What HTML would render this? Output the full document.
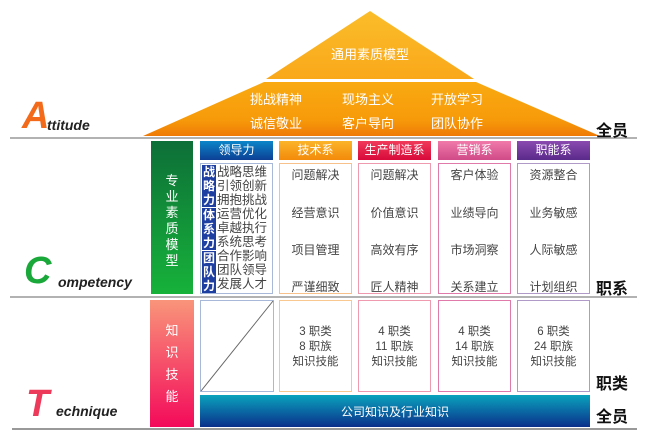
<!DOCTYPE html>
<html><head><meta charset="utf-8"><style>
*{margin:0;padding:0;box-sizing:border-box}
body{width:654px;height:434px;background:#fff;position:relative;overflow:hidden;font-family:"Liberation Sans","Noto Sans CJK SC",sans-serif}
.a{position:absolute}
.hdr{position:absolute;top:141px;height:19px;color:#fff;font-size:12px;text-align:center;line-height:19px}
.box{position:absolute;top:163px;height:131px;border:1px solid;background:#fff}
.box div{position:absolute;left:0;right:0;text-align:center;font-size:12px;color:#444}
.bb{position:absolute;top:300px;height:92px;border:1px solid;background:#fff;text-align:center;font-size:11.5px;color:#444;line-height:15px;padding-top:24px}
.rl{position:absolute;left:596px;font-size:16px;font-weight:bold;color:#111}
.row{position:absolute;left:217px;font-size:12.5px;color:#444;line-height:14px}
.lc{position:absolute;left:202px;width:14px;background:#1f3fa0;color:#fff;font-size:12px;font-weight:bold;line-height:14px;text-align:center}
</style></head><body>
<svg class="a" style="left:0;top:0" width="654" height="434">
<defs>
<linearGradient id="t1" x1="0" y1="0" x2="0" y2="1"><stop offset="0" stop-color="#fbbd2a"/><stop offset="1" stop-color="#f9a81a"/></linearGradient>
<linearGradient id="t2" x1="0" y1="0" x2="0" y2="1"><stop offset="0" stop-color="#f9aa12"/><stop offset="0.7" stop-color="#f79a0a"/><stop offset="1" stop-color="#ef7a06"/></linearGradient>
<linearGradient id="gb" x1="0" y1="0" x2="0" y2="1"><stop offset="0" stop-color="#0d6f38"/><stop offset="1" stop-color="#17b23a"/></linearGradient>
<linearGradient id="pb" x1="0" y1="0" x2="0" y2="1"><stop offset="0" stop-color="#f9957a"/><stop offset="1" stop-color="#f30a5a"/></linearGradient>
<linearGradient id="bl" x1="0" y1="0" x2="0" y2="1"><stop offset="0" stop-color="#0aa3bd"/><stop offset="1" stop-color="#0a2f8a"/></linearGradient>
</defs>
<polygon points="370,11 474,79 266,79" fill="url(#t1)"/>
<polygon points="264,82 476,82 600,136 143,136" fill="url(#t2)"/>
<line x1="10" y1="138" x2="637" y2="138" stroke="#999" stroke-width="1.5"/>
<line x1="10" y1="297" x2="637" y2="297" stroke="#999" stroke-width="1.5"/>
<line x1="12" y1="429" x2="637" y2="429" stroke="#999" stroke-width="2"/>
<rect x="151" y="141" width="42" height="153" fill="url(#gb)"/>
<rect x="150" y="300" width="44" height="127" fill="url(#pb)"/>
<rect x="200" y="395" width="390" height="32" fill="url(#bl)"/>
<rect x="200.5" y="300.5" width="73" height="91" fill="#fff" stroke="#a8b8d8"/>
<line x1="201" y1="391" x2="273" y2="301" stroke="#666"/>
</svg>
<div class="a" style="left:300px;top:44px;width:140px;text-align:center;color:#fff;font-size:13px">通用素质模型</div>
<div class="a" style="left:250px;top:89px;color:#fff;font-size:13px">挑战精神</div>
<div class="a" style="left:342px;top:89px;color:#fff;font-size:13px">现场主义</div>
<div class="a" style="left:431px;top:89px;color:#fff;font-size:13px">开放学习</div>
<div class="a" style="left:250px;top:113px;color:#fff;font-size:13px">诚信敬业</div>
<div class="a" style="left:342px;top:113px;color:#fff;font-size:13px">客户导向</div>
<div class="a" style="left:431px;top:113px;color:#fff;font-size:13px">团队协作</div>

<div class="a" style="left:22px;top:97px;font-size:38px;font-weight:bold;font-style:italic;color:#f26a1a;line-height:38px">A</div>
<div class="a" style="left:47px;top:117px;font-size:14px;font-style:italic;font-weight:bold;color:#222">ttitude</div>
<div class="a" style="left:24px;top:252px;font-size:38px;font-weight:bold;font-style:italic;color:#1aa83a;line-height:38px">C</div>
<div class="a" style="left:58px;top:274px;font-size:14px;font-style:italic;font-weight:bold;color:#222">ompetency</div>
<div class="a" style="left:26px;top:385px;font-size:38px;font-weight:bold;font-style:italic;color:#ee3a5a;line-height:38px">T</div>
<div class="a" style="left:56px;top:403px;font-size:14px;font-style:italic;font-weight:bold;color:#222">echnique</div>

<div class="a" style="left:151px;top:173px;width:42px;text-align:center;color:#fff;font-size:13px;line-height:16px">专<br>业<br>素<br>质<br>模<br>型</div>
<div class="a" style="left:150px;top:320px;width:44px;text-align:center;color:#fff;font-size:13px;line-height:22px">知<br>识<br>技<br>能</div>

<div class="hdr" style="left:200px;width:73px;background:linear-gradient(#0b86c8,#0c3f95)">领导力</div>
<div class="hdr" style="left:279px;width:73px;background:linear-gradient(#fbb42a,#f38a0a)">技术系</div>
<div class="hdr" style="left:358px;width:73px;background:linear-gradient(#f03a5a,#d80a3a)">生产制造系</div>
<div class="hdr" style="left:438px;width:73px;background:linear-gradient(#f07aaa,#d04a88)">营销系</div>
<div class="hdr" style="left:517px;width:73px;background:linear-gradient(#8a4ab0,#5a2a8a)">职能系</div>

<div class="box" style="left:200px;width:73px;border-color:#a8b8d8"></div>
<div class="lc" style="top:165px;height:42px">战<br>略<br>力</div>
<div class="lc" style="top:208px;height:42px">体<br>系<br>力</div>
<div class="lc" style="top:251px;height:42px">团<br>队<br>力</div>
<div class="row" style="top:165px">战略思维<br>引领创新<br>拥抱挑战<br>运营优化<br>卓越执行<br>系统思考<br>合作影响<br>团队领导<br>发展人才</div>

<div class="box" style="left:279px;width:73px;border-color:#f8c08a"><div style="top:2px">问题解决</div><div style="top:40px">经营意识</div><div style="top:77px">项目管理</div><div style="top:114px">严谨细致</div></div>
<div class="box" style="left:358px;width:73px;border-color:#f09ab0"><div style="top:2px">问题解决</div><div style="top:40px">价值意识</div><div style="top:77px">高效有序</div><div style="top:114px">匠人精神</div></div>
<div class="box" style="left:438px;width:73px;border-color:#e07aaa"><div style="top:2px">客户体验</div><div style="top:40px">业绩导向</div><div style="top:77px">市场洞察</div><div style="top:114px">关系建立</div></div>
<div class="box" style="left:517px;width:73px;border-color:#b09ac8"><div style="top:2px">资源整合</div><div style="top:40px">业务敏感</div><div style="top:77px">人际敏感</div><div style="top:114px">计划组织</div></div>

<div class="bb" style="left:279px;width:73px;border-color:#f8c890">3 职类<br>8 职族<br>知识技能</div>
<div class="bb" style="left:358px;width:73px;border-color:#f09ab0">4 职类<br>11 职族<br>知识技能</div>
<div class="bb" style="left:438px;width:73px;border-color:#e07aaa">4 职类<br>14 职族<br>知识技能</div>
<div class="bb" style="left:517px;width:73px;border-color:#b09ac8">6 职类<br>24 职族<br>知识技能</div>
<div class="a" style="left:200px;top:403px;width:390px;text-align:center;color:#fff;font-size:12px">公司知识及行业知识</div>

<div class="rl" style="top:117px">全员</div>
<div class="rl" style="top:275px">职系</div>
<div class="rl" style="top:370px">职类</div>
<div class="rl" style="top:403px">全员</div>
</body></html>
